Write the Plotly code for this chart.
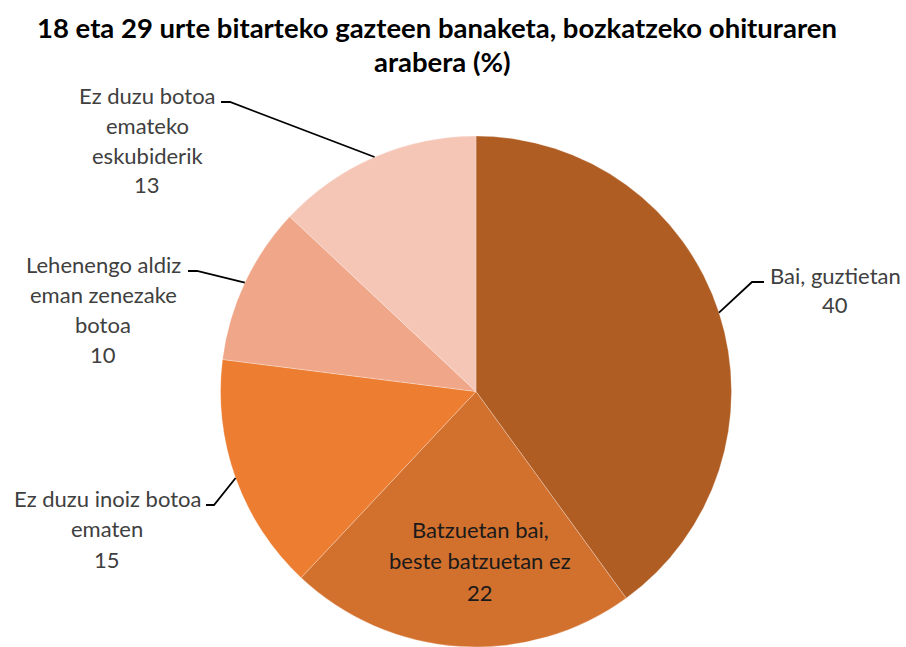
import math
import plotly.graph_objects as go

# Data
categories = [
    "Bai, guztietan",
    "Batzuetan bai, beste batzuetan ez",
    "Ez duzu inoiz botoa ematen",
    "Lehenengo aldiz eman zenezake botoa",
    "Ez duzu botoa emateko eskubiderik",
]
values = [40, 22, 15, 10, 13]
label_lines = [
    ["Bai, guztietan"],
    ["Batzuetan bai,", "beste batzuetan ez"],
    ["Ez duzu inoiz botoa", "ematen"],
    ["Lehenengo aldiz", "eman zenezake", "botoa"],
    ["Ez duzu botoa", "emateko", "eskubiderik"],
]
title_lines = ["18 eta 29 urte bitarteko gazteen banaketa, bozkatzeko ohituraren", "arabera (%)"]

# Styling
colors = ["#B05D24", "#D2702E", "#ED7D31", "#F0A789", "#F5C6B6"]
W, H = 906, 647
FONT = "Lato"
LABEL_SIZE = 22
TITLE_SIZE = 27.5
pie_cx, pie_cy, pie_r = 476.0, 391.5, 255.5  # pixel geometry of the pie domain

# Label placement (pixels): text centre x, first line y, line step,
# leader start (near text) and elbow point; None -> label inside slice
label_style = [
    dict(cx=835, y0=275, step=29.5, lead=[(764, 282), (752, 282)], color="#404040"),
    dict(cx=480, y0=529, step=31.5, lead=None, color="#1A1A1A"),
    dict(cx=107, y0=498, step=30.5, lead=[(206, 505), (214, 505)], color="#404040"),
    dict(cx=103, y0=264, step=30, lead=[(188, 271), (197, 271)], color="#404040"),
    dict(cx=147, y0=96, step=29.5, lead=[(221, 102), (230, 102)], color="#404040"),
]


def px(x):
    return x / W


def py(y):
    return 1 - y / H


fig = go.Figure(
    go.Pie(
        labels=categories,
        values=values,
        sort=False,
        direction="clockwise",
        rotation=0,
        marker=dict(colors=colors, line=dict(color="rgba(255,255,255,0.45)", width=0.6)),
        textinfo="none",
        hoverinfo="label+value",
        showlegend=False,
        domain=dict(
            x=[px(pie_cx - pie_r), px(pie_cx + pie_r)],
            y=[py(pie_cy + pie_r), py(pie_cy - pie_r)],
        ),
    )
)

annotations = []
shapes = []
total = sum(values)
cum = 0
for i, v in enumerate(values):
    mid = (cum + v / 2) / total * 2 * math.pi
    cum += v
    st = label_style[i]
    lines = label_lines[i] + [str(v)]
    for k, line in enumerate(lines):
        annotations.append(dict(
            x=px(st["cx"]), y=py(st["y0"] + k * st["step"]),
            xref="paper", yref="paper", xanchor="center", yanchor="middle",
            text=line, showarrow=False,
            font=dict(family=FONT, size=LABEL_SIZE, color=st["color"]),
        ))
    if st["lead"]:
        ex = pie_cx + pie_r * math.sin(mid)
        ey = pie_cy - pie_r * math.cos(mid)
        pts = st["lead"] + [(ex, ey)]
        path = "M " + " L ".join(f"{px(x)},{py(y)}" for x, y in pts)
        shapes.append(dict(type="path", path=path, xref="paper", yref="paper",
                           line=dict(color="#000000", width=1.8)))

for k, t in enumerate(title_lines):
    annotations.append(dict(
        x=px(437 + k * 5), y=py(28 + k * 34),
        xref="paper", yref="paper", xanchor="center", yanchor="middle",
        text=f"<b>{t}</b>", showarrow=False,
        font=dict(family=FONT, size=TITLE_SIZE, color="#000000"),
    ))

fig.update_layout(
    width=W, height=H,
    margin=dict(l=0, r=0, t=0, b=0),
    paper_bgcolor="white",
    plot_bgcolor="white",
    annotations=annotations,
    shapes=shapes,
)

fig.write_html("out.html")
